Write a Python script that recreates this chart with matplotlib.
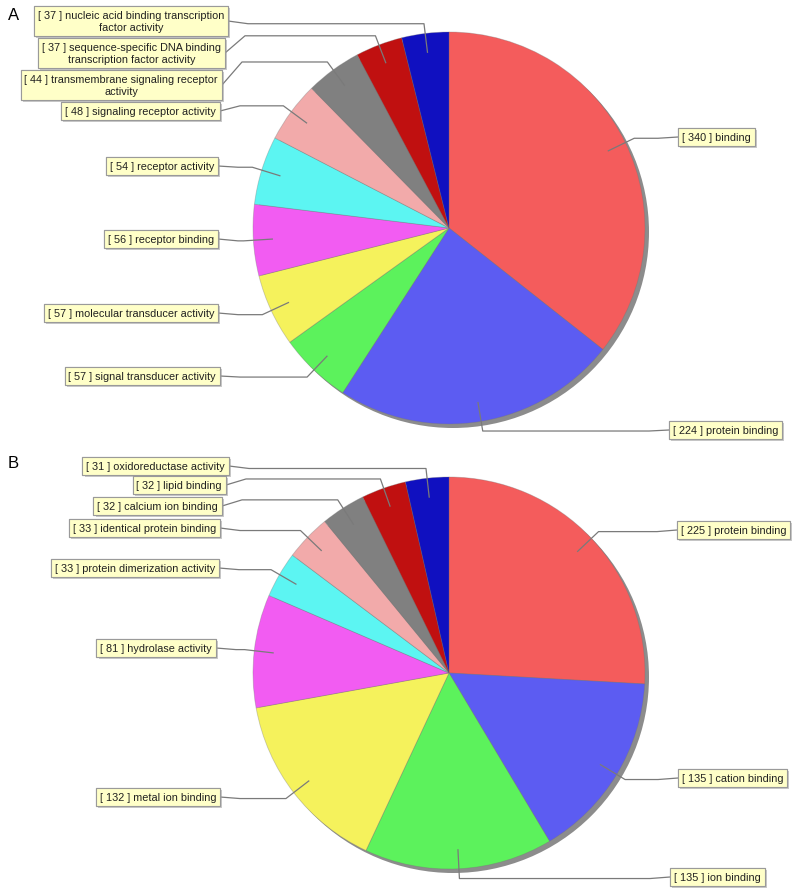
import matplotlib
matplotlib.use("Agg")
import matplotlib.pyplot as plt
import matplotlib.patheffects as pe
from matplotlib.patches import Circle
import numpy as np

# ---------------- data ----------------
labels_a = ["binding", "protein binding", "signal transducer activity",
            "molecular transducer activity", "receptor binding", "receptor activity",
            "signaling receptor activity", "transmembrane signaling receptor\nactivity",
            "sequence-specific DNA binding\ntranscription factor activity",
            "nucleic acid binding transcription\nfactor activity"]
values_a = [340, 224, 57, 57, 56, 54, 48, 44, 37, 37]

labels_b = ["protein binding", "cation binding", "ion binding", "metal ion binding",
            "hydrolase activity", "protein dimerization activity",
            "identical protein binding", "calcium ion binding", "lipid binding",
            "oxidoreductase activity"]
values_b = [225, 135, 135, 132, 81, 33, 33, 32, 32, 31]

colors = ["#f45c5c", "#5c5cf2", "#5cf25c", "#f5f25c", "#f25cf2", "#5cf5f2",
          "#f2aaaa", "#808080", "#c01010", "#1010c0"]

# ---------------- layout (pixel coords from top) ----------------
W, H = 800, 895
centers = [(449, 229), (449, 674)]
R = 196
# label side (+1 right / -1 left), label edge x, label y
side_a = [1, 1, -1, -1, -1, -1, -1, -1, -1, -1]
edge_a = [678, 669, 220, 218, 218, 218, 220, 222, 225, 228]
ly_a = [138, 431, 377, 314, 240, 167, 112, 86, 54, 22]

side_b = [1, 1, 1, -1, -1, -1, -1, -1, -1, -1]
edge_b = [677, 678, 670, 220, 216, 219, 220, 222, 226, 229]
ly_b = [531, 779, 878, 798, 649, 569, 529, 507, 486, 467]

fig = plt.figure(figsize=(W / 100, H / 100), dpi=100)
ax = fig.add_axes([0, 0, 1, 1])

FONT = ["Liberation Sans", "DejaVu Sans"]
FS = 7.8


def Y(y):
    return H - y


def draw(values, labels, side, edge, ly, center, letter, letter_y):
    cx, cy = center[0], Y(center[1])
    # shadow
    ax.add_patch(Circle((cx + 4, cy - 4), R, facecolor="#8c8c8c", edgecolor="none", zorder=1))
    wedges, _ = ax.pie(values, colors=colors, startangle=90, counterclock=False,
                       center=(cx, cy), radius=R,
                       wedgeprops=dict(edgecolor=(0.45, 0.45, 0.45, 0.35), linewidth=0.6))
    for w in wedges:
        w.set_zorder(2)
    for w, lab, v, s, ex, y in zip(wedges, labels, values, side, edge, ly):
        mid = np.deg2rad((w.theta1 + w.theta2) / 2)
        ax_, ay_ = cx + 0.9 * R * np.cos(mid), cy + 0.9 * R * np.sin(mid)
        bx, by = cx + 1.05 * R * np.cos(mid), cy + 1.05 * R * np.sin(mid)
        lx = ex - s * 20
        ax.plot([ax_, bx, lx, ex], [ay_, by, by, Y(y)], color="#7a7a7a", lw=0.9,
                zorder=3, solid_capstyle="butt")
        t = ax.text(ex + s * 4, Y(y), f"[ {v} ] {lab}", ha="left" if s > 0 else "right",
                    va="center", multialignment="center", fontsize=FS, family=FONT,
                    color="#202020", zorder=5, linespacing=1.2,
                    bbox=dict(boxstyle="square,pad=0.35", fc="#ffffc8", ec="#9a9a9a", lw=0.8))
        t.get_bbox_patch().set_path_effects(
            [pe.withSimplePatchShadow(offset=(1.5, -1.5), shadow_rgbFace="#999999", alpha=0.5),
             pe.Normal()])
    ax.text(8, Y(letter_y), letter, fontsize=12, family=FONT, ha="left", va="center")


draw(values_a, labels_a, side_a, edge_a, ly_a, centers[0], "A", 15)
draw(values_b, labels_b, side_b, edge_b, ly_b, centers[1], "B", 463)

ax.set_xlim(0, W)
ax.set_ylim(0, H)
ax.set_aspect("auto")
ax.axis("off")
fig.savefig("out.png", dpi=100, facecolor="white")
